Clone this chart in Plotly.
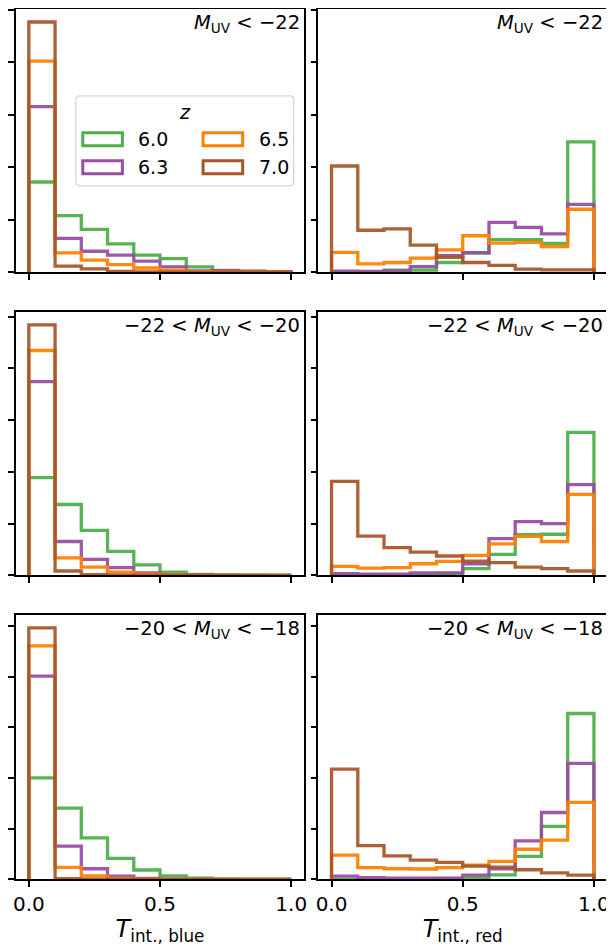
import plotly.graph_objects as go

# The page body adds an 8 px margin, so the figure is 8 px smaller than the window
OFF = 8
W, H = 614 - OFF, 946 - OFF

# ---------------- data ----------------
BIN_EDGES = [0.0, 0.1, 0.2, 0.3, 0.4, 0.5, 0.6, 0.7, 0.8, 0.9, 1.0]
Z_LABELS = ["6.0", "6.3", "6.5", "7.0"]
COLORS = ["#4daf4a", "#984ea3", "#ff7f00", "#a65628"]
MUV_LABELS = [
    "<i>M</i><sub>UV</sub> < −22",
    "−22 < <i>M</i><sub>UV</sub> < −20",
    "−20 < <i>M</i><sub>UV</sub> < −18",
]
X_TICKS = [0.0, 0.5, 1.0]
X_TICK_TEXT = ["0.0", "0.5", "1.0"]
Y_TICKS = [0, 2, 4, 6, 8, 10]
X_TITLES = ["<i>T</i><sub>int., blue</sub>", "<i>T</i><sub>int., red</sub>"]

# blue side, M_UV < -22
blue_bright_z60 = [3.44, 2.16, 1.63, 1.08, 0.65, 0.52, 0.20, 0.07, 0.03, 0.01]
blue_bright_z63 = [6.31, 1.29, 0.80, 0.65, 0.42, 0.20, 0.05, 0.06, 0.04, 0.01]
blue_bright_z65 = [8.05, 0.74, 0.46, 0.29, 0.16, 0.07, 0.02, 0.01, 0.01, 0.00]
blue_bright_z70 = [9.54, 0.23, 0.13, 0.03, 0.01, 0.00, 0.00, 0.00, 0.00, 0.00]
# red side, M_UV < -22
red_bright_z60 = [0.00, 0.02, 0.08, 0.08, 0.37, 0.73, 1.24, 1.24, 1.10, 4.97]
red_bright_z63 = [0.04, 0.03, 0.05, 0.21, 0.63, 0.75, 1.90, 1.71, 1.46, 2.59]
red_bright_z65 = [0.76, 0.32, 0.37, 0.54, 0.85, 1.39, 1.11, 1.14, 0.98, 2.40]
red_bright_z70 = [4.05, 1.60, 1.65, 1.03, 0.57, 0.37, 0.26, 0.12, 0.09, 0.09]
# blue side, -22 < M_UV < -20
blue_mid_z60 = [3.78, 2.74, 1.74, 0.93, 0.41, 0.13, 0.04, 0.02, 0.01, 0.00]
blue_mid_z63 = [7.49, 1.31, 0.62, 0.30, 0.10, 0.03, 0.01, 0.00, 0.00, 0.00]
blue_mid_z65 = [8.69, 0.68, 0.32, 0.13, 0.05, 0.02, 0.00, 0.00, 0.00, 0.00]
blue_mid_z70 = [9.68, 0.17, 0.03, 0.01, 0.00, 0.00, 0.00, 0.00, 0.00, 0.00]
# red side, -22 < M_UV < -20
red_mid_z60 = [0.00, 0.00, 0.01, 0.02, 0.08, 0.26, 0.81, 1.57, 1.59, 5.53]
red_mid_z63 = [0.07, 0.05, 0.05, 0.10, 0.10, 0.45, 1.42, 2.08, 2.00, 3.51]
red_mid_z65 = [0.35, 0.28, 0.30, 0.45, 0.54, 0.77, 1.22, 1.51, 1.31, 3.13]
red_mid_z70 = [3.63, 1.52, 1.07, 0.90, 0.75, 0.55, 0.49, 0.32, 0.26, 0.17]
# blue side, -20 < M_UV < -18
blue_faint_z60 = [4.01, 2.81, 1.64, 0.83, 0.37, 0.14, 0.05, 0.01, 0.00, 0.00]
blue_faint_z63 = [8.03, 1.31, 0.42, 0.13, 0.04, 0.01, 0.00, 0.00, 0.00, 0.00]
blue_faint_z65 = [9.22, 0.47, 0.14, 0.04, 0.01, 0.00, 0.00, 0.00, 0.00, 0.00]
blue_faint_z70 = [9.93, 0.03, 0.01, 0.00, 0.00, 0.00, 0.00, 0.00, 0.00, 0.00]
# red side, -20 < M_UV < -18
red_faint_z60 = [0.00, 0.00, 0.00, 0.01, 0.02, 0.06, 0.18, 0.91, 2.09, 6.55]
red_faint_z63 = [0.13, 0.07, 0.05, 0.05, 0.05, 0.17, 0.42, 1.52, 2.64, 4.58]
red_faint_z65 = [0.96, 0.46, 0.42, 0.41, 0.46, 0.56, 0.71, 1.19, 1.55, 3.04]
red_faint_z70 = [4.35, 1.33, 0.93, 0.76, 0.67, 0.52, 0.48, 0.38, 0.26, 0.17]

PANELS = [
    [[blue_bright_z60, blue_bright_z63, blue_bright_z65, blue_bright_z70],
     [red_bright_z60, red_bright_z63, red_bright_z65, red_bright_z70]],
    [[blue_mid_z60, blue_mid_z63, blue_mid_z65, blue_mid_z70],
     [red_mid_z60, red_mid_z63, red_mid_z65, red_mid_z70]],
    [[blue_faint_z60, blue_faint_z63, blue_faint_z65, blue_faint_z70],
     [red_faint_z60, red_faint_z63, red_faint_z65, red_faint_z70]],
]

# ---------------- layout geometry (window pixels) ----------------
COL_X = [(12.75, 304.25), (318.5, 610.0)]
ROW_Y = [(8.5, 271.5), (311.7, 575.0), (615.0, 879.3)]
FONT = "DejaVu Sans"


def px_x(x):
    return (x - OFF) / W


def px_y(y):
    return 1 - (y - OFF) / H


def step_xy(edges, heights):
    xs = [edges[0]] + list(edges[:-1]) + [edges[-1], edges[-1]]
    ys = [0] + list(heights) + [heights[-1], 0]
    return xs, ys


fig = go.Figure()
layout = dict()
annotations = []
shapes = []

for r in range(3):
    row_max = max(max(h) for col in PANELS[r] for h in col)
    for c in range(2):
        k = r * 2 + c + 1
        xa = "x" if k == 1 else f"x{k}"
        ya = "y" if k == 1 else f"y{k}"
        for zi, heights in enumerate(PANELS[r][c]):
            xs, ys = step_xy(BIN_EDGES, heights)
            fig.add_trace(go.Scatter(
                x=xs, y=ys, mode="lines", line_shape="hv",
                line=dict(color=COLORS[zi], width=3.3),
                opacity=0.93,
                name=Z_LABELS[zi], showlegend=False,
                xaxis=xa, yaxis=ya, hoverinfo="skip",
            ))
        x0, x1 = COL_X[c]
        y0, y1 = ROW_Y[r]
        bottom = (r == 2)
        layout["xaxis" if k == 1 else f"xaxis{k}"] = dict(
            domain=[px_x(x0), px_x(x1)], anchor=ya,
            range=[-0.05, 1.05], tickvals=X_TICKS, ticktext=X_TICK_TEXT,
            showticklabels=bottom, ticks="outside", ticklen=6, tickwidth=1.8,
            tickcolor="black", showline=True, linewidth=1.8, linecolor="black",
            mirror=True, showgrid=False, zeroline=False,
            tickfont=dict(family=FONT, size=20, color="black"),
            title=dict(text=X_TITLES[c] if bottom else "", standoff=0,
                       font=dict(family=FONT, size=24, color="black")),
        )
        layout["yaxis" if k == 1 else f"yaxis{k}"] = dict(
            domain=[px_y(y1), px_y(y0)], anchor=xa,
            range=[0, 1.05 * row_max], tickvals=Y_TICKS,
            showticklabels=False, ticks="outside", ticklen=6, tickwidth=1.8,
            tickcolor="black", showline=True, linewidth=1.8, linecolor="black",
            mirror=True, showgrid=False, zeroline=False,
        )
        annotations.append(dict(
            text=MUV_LABELS[r], xref=f"{xa} domain", yref=f"{ya} domain",
            x=0.993, y=1.0, xanchor="right", yanchor="top", showarrow=False,
            font=dict(family=FONT, size=19.5, color="black"),
        ))

# ---------------- legend (drawn in the top-left panel) ----------------
bx0, bx1, by0, by1, rad = 73.5, 293.5, 95.0, 185.0, 4.0
path = (
    f"M {px_x(bx0 + rad)} {px_y(by0)} L {px_x(bx1 - rad)} {px_y(by0)} "
    f"Q {px_x(bx1)} {px_y(by0)} {px_x(bx1)} {px_y(by0 + rad)} "
    f"L {px_x(bx1)} {px_y(by1 - rad)} Q {px_x(bx1)} {px_y(by1)} {px_x(bx1 - rad)} {px_y(by1)} "
    f"L {px_x(bx0 + rad)} {px_y(by1)} Q {px_x(bx0)} {px_y(by1)} {px_x(bx0)} {px_y(by1 - rad)} "
    f"L {px_x(bx0)} {px_y(by0 + rad)} Q {px_x(bx0)} {px_y(by0)} {px_x(bx0 + rad)} {px_y(by0)} Z"
)
shapes.append(dict(type="path", path=path, xref="paper", yref="paper",
                   line=dict(color="#d5d5d5", width=1.3),
                   fillcolor="rgba(255,255,255,0.8)", layer="above"))
annotations.append(dict(text="<i>z</i>", xref="paper", yref="paper",
                        x=px_x(183.5), y=px_y(111), xanchor="center", yanchor="middle",
                        showarrow=False, font=dict(family=FONT, size=19, color="black")))
swatch_x = [80.5, 202.0]
label_x = [134.0, 256.0]
row_cy = [138.5, 166.5]
for zi, lab in enumerate(Z_LABELS):
    col = zi // 2
    row = zi % 2
    sx = swatch_x[col]
    cy = row_cy[row]
    shapes.append(dict(type="rect", xref="paper", yref="paper",
                       x0=px_x(sx), x1=px_x(sx + 40), y0=px_y(cy - 6.5), y1=px_y(cy + 6.5),
                       line=dict(color=COLORS[zi], width=3), fillcolor="white",
                       layer="above"))
    annotations.append(dict(text=lab, xref="paper", yref="paper",
                            x=px_x(label_x[col]), y=px_y(cy), xanchor="left",
                            yanchor="middle", showarrow=False,
                            font=dict(family=FONT, size=19, color="black")))

fig.update_layout(
    width=W, height=H, margin=dict(l=0, r=0, t=0, b=0),
    paper_bgcolor="white", plot_bgcolor="white",
    font=dict(family=FONT, color="black"),
    showlegend=False, annotations=annotations, shapes=shapes,
    **layout,
)

fig.write_html("out.html")
